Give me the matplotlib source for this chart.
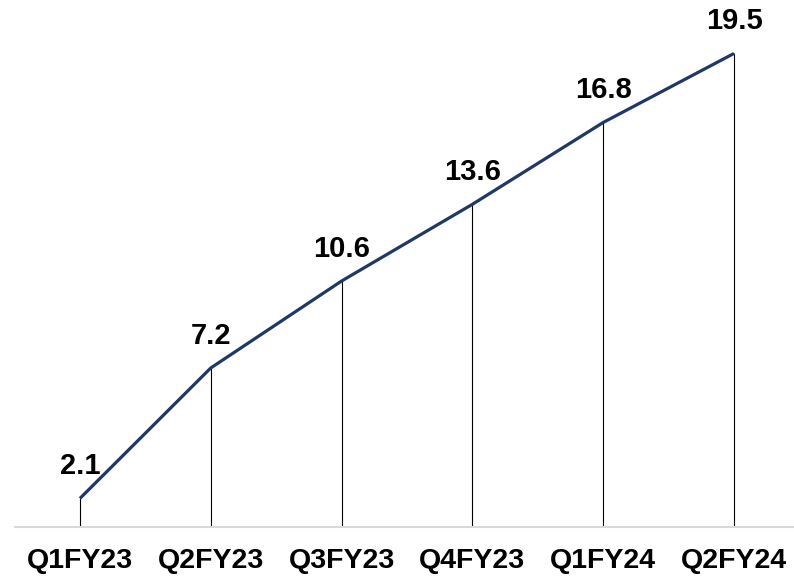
import matplotlib.pyplot as plt

plt.rcParams["font.family"] = ["Liberation Sans", "DejaVu Sans"]

quarters = ["Q1FY23", "Q2FY23", "Q3FY23", "Q4FY23", "Q1FY24", "Q2FY24"]
values = [2.1, 7.2, 10.6, 13.6, 16.8, 19.5]

LINE_COLOR = "#1F3864"
Y_MIN, Y_MAX = 0.98, 21.59

fig = plt.figure(figsize=(7.94, 5.79), dpi=100)
ax = fig.add_axes([14.6 / 794, 52 / 579, 784.8 / 794, 527 / 579])

x = list(range(len(quarters)))

# thin drop lines from each point down to the baseline
ax.vlines(x, Y_MIN, values, color="black", linewidth=0.8, zorder=1)
ax.plot(x, values, color=LINE_COLOR, linewidth=2.3, zorder=2,
        solid_capstyle="butt")

for xi, v in zip(x, values):
    ax.annotate(f"{v:.1f}", (xi, v), xytext=(0, 17.5), textcoords="offset points",
                ha="center", va="baseline", fontsize=21, fontweight="bold")

ax.set_xlim(-0.5, 5.5)
ax.set_ylim(Y_MIN, Y_MAX)
ax.set_xticks(x)
ax.set_xticklabels(quarters, fontsize=20.5, fontweight="bold")
ax.tick_params(axis="x", length=0, pad=15)
ax.set_yticks([])

for side in ["top", "right", "left"]:
    ax.spines[side].set_visible(False)
ax.spines["bottom"].set_color("#D9D9D9")
ax.spines["bottom"].set_linewidth(1.5)

fig.savefig("out.png", dpi=100)
